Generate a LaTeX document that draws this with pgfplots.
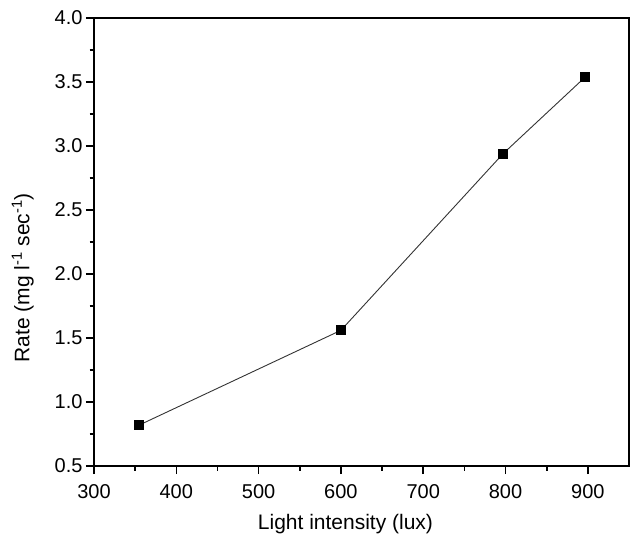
\documentclass[border=0pt]{standalone}
\usepackage{pgfplots}
\pgfplotsset{compat=1.18}
\usepackage{fontspec}
\setmainfont{Liberation Sans}
\begin{document}
\begin{tikzpicture}
\begin{axis}[
 scale only axis, width=535pt, height=448pt,
 xmin=300, xmax=950, ymin=0.5, ymax=4.0,
 xtick={300,400,...,900}, ytick={0.5,1.0,...,4.0},
 minor x tick num=1, minor y tick num=1,
 tick align=outside, xtick pos=bottom, ytick pos=left,
 major tick length=8pt, minor tick length=4.5pt,
 axis line style={line width=1.8pt},
 major tick style={line width=1.6pt, black},
 minor tick style={line width=1.6pt, black},
 tick label style={font=\fontsize{20}{24}\selectfont},
 /pgf/number format/assume math mode=true,
 yticklabel style={/pgf/number format/.cd, fixed, fixed zerofill, precision=1},
 xticklabel style={yshift=-7pt, /pgf/number format/.cd, fixed, precision=0},
 label style={font=\fontsize{21}{25}\selectfont},
 xlabel={Light intensity (lux)},
 ylabel={Rate (mg l\textsuperscript{-1} sec\textsuperscript{-1})},
 xlabel style={at={(ticklabel cs:0.47,9pt)}},
 ylabel style={at={(ticklabel cs:0.42,14pt)}},
]
\addplot[color=black!80, line width=0.9pt, mark=square*, mark size=4.5pt, mark options={fill=black, draw=black, solid, line width=0pt}] coordinates {(355,0.82)(600,1.56)(797,2.94)(897,3.54)};
\end{axis}
\path ([xshift=-94pt,yshift=-70pt]current axis.south west) rectangle ([xshift=1pt,yshift=18pt]current axis.north east);
\end{tikzpicture}
\end{document}
